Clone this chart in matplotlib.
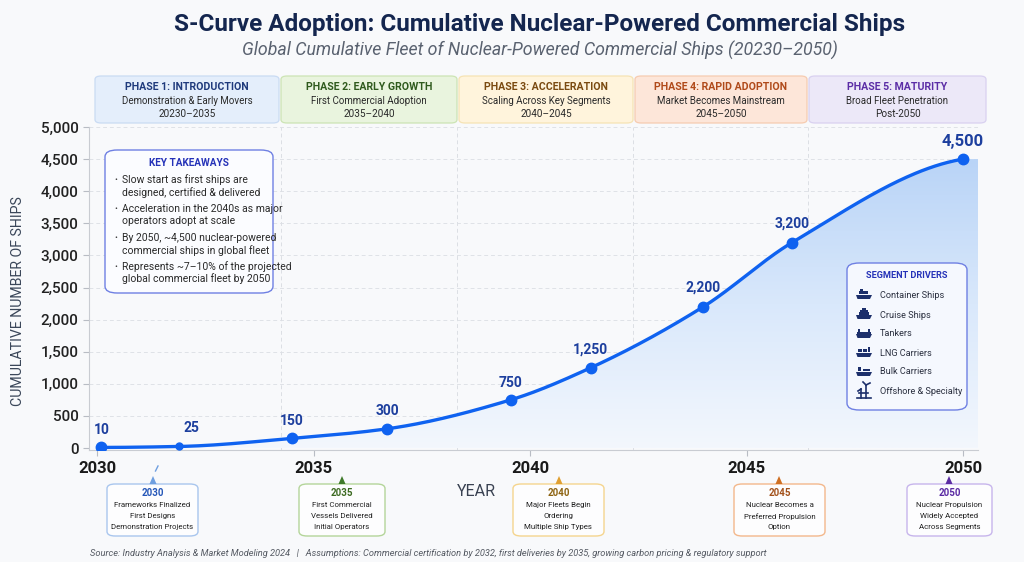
import numpy as np
import matplotlib
matplotlib.use("Agg")
import matplotlib.pyplot as plt
from matplotlib.patches import FancyBboxPatch, Polygon, Rectangle
from matplotlib.colors import LinearSegmentedColormap

plt.rcParams['font.family'] = ['Roboto', 'DejaVu Sans']

# ---- data ----
years = [2030.1, 2031.9, 2034.5, 2036.7, 2039.55, 2041.4, 2044.0, 2046.05, 2050.0]
ships = [10, 25, 150, 300, 750, 1250, 2200, 3200, 4500]
labels = ["10", "25", "150", "300", "750", "1,250", "2,200", "3,200", "4,500"]
year_ticks = [2030, 2035, 2040, 2045, 2050]
ship_ticks = list(range(0, 5001, 500))

phase_titles = ["PHASE 1: INTRODUCTION", "PHASE 2: EARLY GROWTH", "PHASE 3: ACCELERATION",
                "PHASE 4: RAPID ADOPTION", "PHASE 5: MATURITY"]
phase_subs = ["Demonstration & Early Movers", "First Commercial Adoption", "Scaling Across Key Segments",
              "Market Becomes Mainstream", "Broad Fleet Penetration"]
phase_years = ["20230\u20132035", "2035\u20132040", "2040\u20132045", "2045\u20132050", "Post-2050"]

takeaways = [
    ["Slow start as first ships are", "designed, certified & delivered"],
    ["Acceleration in the 2040s as major", "operators adopt at scale"],
    ["By 2050, ~4,500 nuclear-powered", "commercial ships in global fleet"],
    ["Represents ~7\u201310% of the projected", "global commercial fleet by 2050"],
]
segments = ["Container Ships", "Cruise Ships", "Tankers", "LNG Carriers", "Bulk Carriers", "Offshore & Specialty"]

milestone_years = ["2030", "2035", "2040", "2045", "2050"]
milestone_text = [
    ["Frameworks Finalized", "First Designs", "Demonstration Projects"],
    ["First Commercial", "Vessels Delivered", "Initial Operators"],
    ["Major Fleets Begin", "Ordering", "Multiple Ship Types"],
    ["Nuclear Becomes a", "Preferred Propulsion", "Option"],
    ["Nuclear Propulsion", "Widely Accepted", "Across Segments"],
]

# ---- layout helpers (pixel coords of a 1024x562 canvas) ----
W, H = 1024, 562
def P(x, y):
    return (x / W, 1 - y / H)

def smooth(x, y, n=400):
    # monotone cubic (pchip) for a nicer s-curve line
    x = np.asarray(x, float); y = np.asarray(y, float)
    h = np.diff(x); d = np.diff(y) / h
    m = np.zeros_like(y)
    for k in range(1, len(x) - 1):
        if d[k - 1] * d[k] > 0:
            w1 = 2 * h[k] + h[k - 1]; w2 = h[k] + 2 * h[k - 1]
            m[k] = (w1 + w2) / (w1 / d[k - 1] + w2 / d[k])
    m[0] = max(0, ((2 * h[0] + h[1]) * d[0] - h[0] * d[1]) / (h[0] + h[1]))
    m[-1] = max(0, ((2 * h[-1] + h[-2]) * d[-1] - h[-1] * d[-2]) / (h[-1] + h[-2])) * 0.5
    xs = np.linspace(x[0], x[-1], n)
    idx = np.clip(np.searchsorted(x, xs) - 1, 0, len(x) - 2)
    t = (xs - x[idx]) / h[idx]
    h00 = 2 * t**3 - 3 * t**2 + 1; h10 = t**3 - 2 * t**2 + t
    h01 = -2 * t**3 + 3 * t**2; h11 = t**3 - t**2
    ys = h00 * y[idx] + h10 * h[idx] * m[idx] + h01 * y[idx + 1] + h11 * h[idx] * m[idx + 1]
    return xs, ys

bg = "#f8f9fb"
fig = plt.figure(figsize=(10.24, 5.62), dpi=100, facecolor=bg)

ax_l, ax_r, ax_t, ax_b = 89, 978, 127, 450
ax = fig.add_axes([ax_l / W, 1 - ax_b / H, (ax_r - ax_l) / W, (ax_b - ax_t) / H])
ax.set_facecolor(bg)
x0 = 2030 - 8 / 43.3
x1 = 2050 + 15 / 43.3
ax.set_xlim(x0, x1)
ax.set_ylim(-30, 5000)

# grid
for v in ship_ticks[1:]:
    ax.axhline(v, color="#dfe2e7", lw=0.7, ls=(0, (4, 3)), zorder=0)
for px in [281, 457, 633, 808]:
    xv = x0 + (px - ax_l) / (ax_r - ax_l) * (x1 - x0)
    ax.axvline(xv, color="#dcdfe4", lw=0.7, ls=(0, (4, 3)), zorder=0)

# curve + gradient fill
xs, ys = smooth(years, ships)
fx = np.concatenate([xs, [x1, x1, xs[0]]])
fy = np.concatenate([ys, [ys[-1], 0, 0]])
poly = Polygon(np.column_stack([fx, fy]), closed=True, facecolor="none", edgecolor="none")
ax.add_patch(poly)
cmap = LinearSegmentedColormap.from_list("fade", ["#f3f7fd", "#d9e8fb", "#b9d4f7"])
grad = np.linspace(0, 1, 256).reshape(-1, 1)
im = ax.imshow(grad, extent=[x0, x1, 0, 4500], origin="lower", aspect="auto", cmap=cmap, zorder=1)
im.set_clip_path(poly)

ax.plot(xs, ys, color="#0f62f0", lw=2.4, zorder=3, solid_capstyle="round")
sizes = [7.5, 5, 7.5, 7.5, 7.5, 7.5, 7.5, 7.5, 7.5]
for xv, yv, s in zip(years, ships, sizes):
    ax.plot(xv, yv, "o", color="#0f62f0", ms=s, zorder=4)

label_off = [(0, 17), (12, 18), (0, 17), (0, 18), (0, 17), (0, 18), (0, 19), (0, 19), (0, 18)]
for xv, yv, lab, off in zip(years, ships, labels, label_off):
    ax.annotate(lab, (xv, yv), xytext=off, textcoords="offset pixels", ha="center", va="center",
                fontsize=12 if lab == "4,500" else 10, fontweight="bold", color="#1d3f9e", zorder=5)

# axes style
ax.set_xticks(year_ticks)
ax.set_xticklabels([str(y) for y in year_ticks], fontsize=12, fontweight="bold", color="#1a1a1a")
ax.set_yticks(ship_ticks)
ax.set_yticklabels([f"{v:,}" for v in ship_ticks], fontsize=11, fontweight="medium", color="#222222")
ax.tick_params(axis="both", length=4, color="#b8bcc4", width=0.8)
ax.tick_params(axis="x", pad=4)
for s in ["top", "right"]:
    ax.spines[s].set_visible(False)
for s in ["left", "bottom"]:
    ax.spines[s].set_color("#c9ccd2")
    ax.spines[s].set_linewidth(0.8)

fig.text(*P(18, 301), "CUMULATIVE NUMBER OF SHIPS", rotation=90, ha="center", va="center",
         fontsize=10.2, color="#3a4659")
fig.text(*P(476, 491), "YEAR", ha="center", va="center", fontsize=11.5, color="#3a4252")

# title
fig.text(*P(540, 24), "S-Curve Adoption: Cumulative Nuclear-Powered Commercial Ships", ha="center",
         va="center", fontsize=17.5, fontweight="bold", color="#14264f")
fig.text(*P(540, 50), "Global Cumulative Fleet of Nuclear-Powered Commercial Ships (20230\u20132050)",
         ha="center", va="center", fontsize=12.8, style="italic", color="#5a6270")

# phase boxes
phase_x = [(95, 279), (281, 457), (459, 633), (635, 807), (809, 986)]
phase_fill = ["#e4eefb", "#e9f4de", "#fff4dc", "#fde6d9", "#ece8f8"]
phase_edge = ["#c9dbf3", "#cce4b4", "#f6e3b4", "#f6cbb0", "#d9d1f0"]
phase_col = ["#1f3a7c", "#2f5a1d", "#7a4a10", "#b04a1a", "#5b2da6"]
for (a, b), t, s, yr, fc, ec, tc in zip(phase_x, phase_titles, phase_subs, phase_years,
                                      phase_fill, phase_edge, phase_col):
    xa, ya = P(a, 123)
    xb, yb = P(b, 76)
    fig.add_artist(FancyBboxPatch((xa, ya), xb - xa, yb - ya, boxstyle="round,pad=0,rounding_size=0.006",
                                  transform=fig.transFigure, facecolor=fc, edgecolor=ec, lw=0.9))
    cx = (a + b) / 2
    fig.text(*P(cx, 87), t, ha="center", va="center", fontsize=7.6, fontweight="bold", color=tc)
    fig.text(*P(cx, 101), s, ha="center", va="center", fontsize=7.0, color="#2a2a2a")
    fig.text(*P(cx, 114), yr, ha="center", va="center", fontsize=7.2, color="#2a2a2a")

# key takeaways box
xa, ya = P(105, 293)
xb, yb = P(273, 150)
fig.add_artist(FancyBboxPatch((xa, ya), xb - xa, yb - ya, boxstyle="round,pad=0,rounding_size=0.012",
                              transform=fig.transFigure, facecolor="#fbfcff", edgecolor="#6f80e3", lw=1.0))
fig.text(*P(189, 163), "KEY TAKEAWAYS", ha="center", va="center", fontsize=7.2, fontweight="bold",
         color="#2532b8")
ty = 180
for lines in takeaways:
    fig.text(*P(116, ty), "\u2022", ha="center", va="center", fontsize=6, color="#333333")
    for ln in lines:
        fig.text(*P(122, ty), ln, ha="left", va="center", fontsize=7.5, color="#2a2a2a")
        ty += 12.3
    ty += 4.3

# segment drivers box
xa, ya = P(847, 410)
xb, yb = P(967, 263)
fig.add_artist(FancyBboxPatch((xa, ya), xb - xa, yb - ya, boxstyle="round,pad=0,rounding_size=0.012",
                              transform=fig.transFigure, facecolor="#f5f8fe", edgecolor="#6f80e3", lw=1.0))
fig.text(*P(907, 276), "SEGMENT DRIVERS", ha="center", va="center", fontsize=6.6, fontweight="bold",
         color="#2532b8")

icon_c = "#1c2f6b"
def ship_icon(cx, cy, kind):
    hull = [P(cx - 8, cy + 1), P(cx + 8, cy + 1), P(cx + 6, cy + 5), P(cx - 6.5, cy + 5)]
    fig.add_artist(Polygon(hull, closed=True, transform=fig.transFigure, color=icon_c, lw=0))
    if kind == 0:
        tops = [(-5, -3, 9, 3), (-4, -5, 3, 2)]
    elif kind == 1:
        tops = [(-5, -2, 10, 3), (-4, -4, 8, 2), (-2, -6, 4, 2)]
    elif kind == 2:
        tops = [(-7, -1, 14, 1.5), (-6, -4, 2, 3), (4, -4, 2, 3)]
    elif kind == 3:
        tops = [(-6, -3, 4, 3), (-1, -3, 4, 3), (4, -5, 2, 5)]
    else:
        tops = [(-6, -4, 3, 4), (-1, -2, 7, 2)]
    for dx, dy, w, hgt in tops:
        xa_, ya_ = P(cx + dx, cy + dy + hgt)
        fig.add_artist(Rectangle((xa_, ya_), w / W, hgt / H, transform=fig.transFigure, color=icon_c, lw=0))

def rig_icon(cx, cy):
    for (xa_, ya_), (xb_, yb_) in [((cx - 3, cy + 6), (cx - 3, cy - 3)), ((cx + 2, cy + 6), (cx + 2, cy - 7)),
                                   ((cx - 7, cy + 6), (cx + 7, cy + 6)), ((cx - 5, cy + 1), (cx + 4, cy + 1)),
                                   ((cx + 2, cy - 7), (cx + 6, cy - 9)), ((cx + 2, cy - 7), (cx - 1, cy - 10)),
                                   ((cx - 3, cy - 3), (cx - 6, cy - 1))]:
        fig.add_artist(plt.Line2D([xa_ / W, xb_ / W], [1 - ya_ / H, 1 - yb_ / H], transform=fig.transFigure,
                                  color=icon_c, lw=1.2))

seg_y = [295, 315, 334, 353, 372, 392]
for i, (name, yv) in enumerate(zip(segments, seg_y)):
    if i < 5:
        ship_icon(864, yv - 1, i)
    else:
        rig_icon(864, yv)
    fig.text(*P(880, yv), name, ha="left", va="center", fontsize=6.6, color="#2a2f3f")

# milestone boxes under the axis
ms_x = [(107, 198), (299, 385), (513, 604), (734, 825), (907, 992)]
ms_tri = [153, 342, 559, 779, 949]
ms_edge = ["#a9c6ee", "#b4d59a", "#f5d58e", "#f3b88c", "#c7b5ec"]
ms_title = ["#2456b8", "#3d6b22", "#8e6412", "#a3521c", "#5a2aa3"]
ms_tri_c = ["#6f9fe0", "#3f7a2a", "#e0a032", "#cf6f22", "#5b2ca3"]
for (a, b), tx, yr, lines, ec, tc, trc in zip(ms_x, ms_tri, milestone_years, milestone_text,
                                              ms_edge, ms_title, ms_tri_c):
    xa, ya = P(a, 536)
    xb, yb = P(b, 484)
    fig.add_artist(FancyBboxPatch((xa, ya), xb - xa, yb - ya, boxstyle="round,pad=0,rounding_size=0.008",
                                  transform=fig.transFigure, facecolor="#fdfdfe", edgecolor=ec, lw=1.0))
    tri = [P(tx - 3.5, 484), P(tx + 3.5, 484), P(tx, 476)]
    fig.add_artist(Polygon(tri, closed=True, transform=fig.transFigure, color=trc, lw=0))
    cx = (a + b) / 2
    fig.text(*P(cx, 493), yr, ha="center", va="center", fontsize=7, fontweight="bold", color=tc)
    for j, ln in enumerate(lines):
        fig.text(*P(cx, 505 + j * 11.2), ln, ha="center", va="center", fontsize=5.7, color="#222222")

fig.add_artist(plt.Line2D([155.5 / W, 158 / W], [1 - 471 / H, 1 - 466 / H], transform=fig.transFigure,
                          color="#6f9fe0", lw=1.0))

fig.text(*P(428, 553), "Source: Industry Analysis & Market Modeling 2024   |   Assumptions: Commercial "
         "certification by 2032, first deliveries by 2035, growing carbon pricing & regulatory support",
         ha="center", va="center", fontsize=6.7, style="italic", color="#555a63")

fig.savefig("out.png", dpi=100, facecolor=bg)
